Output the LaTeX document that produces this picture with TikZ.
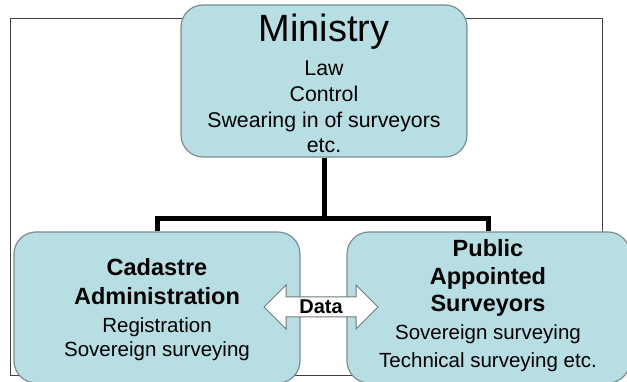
\documentclass[tikz,border=0pt]{standalone}
\usepackage{fontspec}
\setmainfont{Liberation Sans}
\definecolor{boxfill}{HTML}{B7DEE3}
\definecolor{boxline}{HTML}{7A8E90}
\definecolor{frameline}{HTML}{404040}
\definecolor{arrline}{HTML}{6E7A7C}
\begin{document}
\begin{tikzpicture}[x=1pt,y=-1pt,
  box/.style={draw=boxline, line width=1.2pt, fill=boxfill, rounded corners=22pt, inner sep=0pt, anchor=center},
  conn/.style={line width=5pt, black, line join=miter},
  frame/.style={draw=frameline, line width=1pt},
  title/.style={anchor=base, inner sep=0pt, font=\fontsize{38}{40}\selectfont},
  reg/.style={anchor=base, inner sep=0pt, font=\fontsize{21.3}{24}\selectfont},
  sreg/.style={anchor=base, inner sep=0pt, font=\fontsize{20.5}{24}\selectfont},
  hdr/.style={anchor=base, inner sep=0pt, font=\bfseries\fontsize{23.5}{26}\selectfont},
  datatxt/.style={anchor=base, inner sep=0pt, font=\bfseries\fontsize{20}{24}\selectfont},
  dataarrow/.style={draw=arrline, line width=1pt, fill=white, line join=miter}]
\useasboundingbox (0,0) rectangle (627,382);
% outer frame
\draw[frame] (10,19) rectangle (602,375);
% boxes
\node[box, minimum width=286pt, minimum height=152pt] (min) at (324,81) {};
\node[box, minimum width=286pt, minimum height=151pt] (cad) at (157,307.5) {};
\node[box, minimum width=283pt, minimum height=151pt] (pub) at (488.5,307.5) {};
% connectors
\coordinate (j) at (324,219);
\draw[conn] (min.south) -- (j);
\draw[conn] (cad.north) |- (j) -| (pub.north);
% ministry text
\node[title] (m0) at (324,42) {Ministry};
\node[reg] (m1) at (324,76) {Law};
\node[reg] (m2) at (324,102) {Control};
\node[reg] (m3) at (324,128) {Swearing in of surveyors};
\node[reg] (m4) at (324,153) {etc.};
% cadastre text
\node[hdr] (c0) at (157,276) {Cadastre};
\node[hdr] (c1) at (157,305) {Administration};
\node[sreg] (c2) at (157,332) {Registration};
\node[sreg] (c3) at (157,356) {Sovereign surveying};
% public text
\node[hdr] (p0) at (488,257) {Public};
\node[hdr] (p1) at (488,285) {Appointed};
\node[hdr] (p2) at (488,312) {Surveyors};
\node[sreg] (p3) at (488,340) {Sovereign surveying};
\node[sreg] (p4) at (488,367) {Technical surveying etc.};
% data arrow
\draw[dataarrow] (264,307) -- (286,285) -- (286,297) -- (356,297) -- (356,285)
  -- (378,307) -- (356,329) -- (356,317) -- (286,317) -- (286,329) -- cycle;
\node[datatxt] (data) at (321,314) {Data};
\end{tikzpicture}
\end{document}
